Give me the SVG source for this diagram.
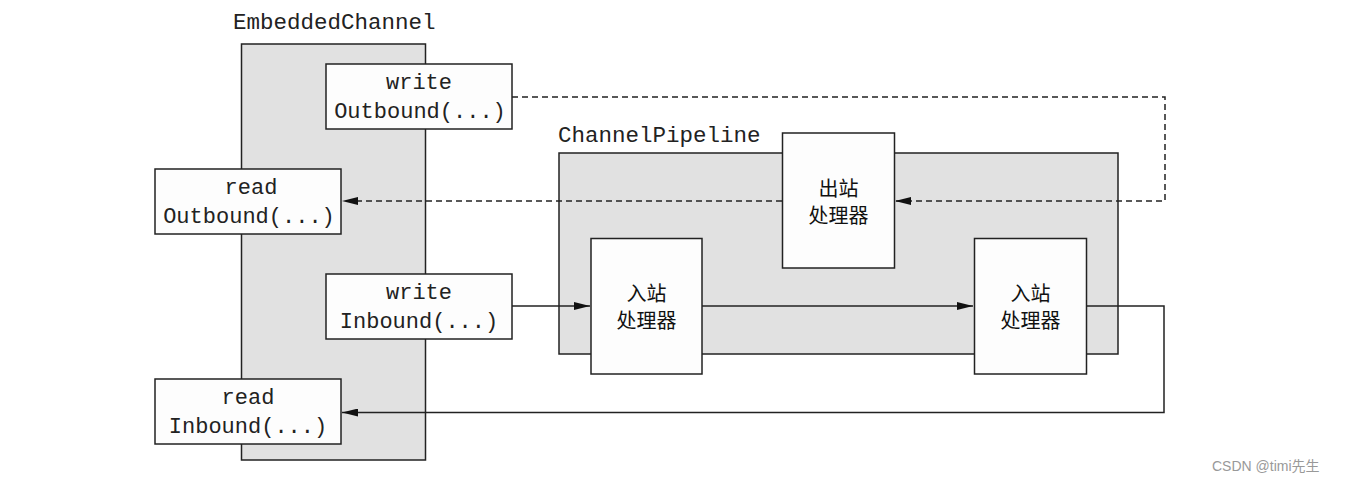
<svg xmlns="http://www.w3.org/2000/svg" width="1345" height="482" viewBox="0 0 1345 482">
<style>
.box{fill:#fdfdfd;stroke:#222;stroke-width:1.5}
.cont{fill:#e1e1e1;stroke:#222;stroke-width:1.5}
.mono{font-family:"Liberation Mono","DejaVu Sans Mono",monospace;font-size:22px;fill:#222;text-anchor:middle}
.lbl{font-family:"Liberation Mono","DejaVu Sans Mono",monospace;font-size:22.5px;fill:#222}
.cjk{font-family:"Noto Sans CJK SC",sans-serif;font-size:20px;fill:#111;text-anchor:middle}
.line{fill:none;stroke:#222;stroke-width:1.5}
.dash{stroke-dasharray:6,4}
</style>
<defs>
<marker id="arr" viewBox="0 0 16 8" refX="16" refY="4" markerWidth="16" markerHeight="8" markerUnits="userSpaceOnUse" orient="auto">
<path d="M0,0 L16,4 L0,8 Z" fill="#111"/>
</marker>
</defs>
<g id="embeddedChannel">
<rect class="cont" x="241.5" y="44" width="184" height="416"/>
<text class="lbl" x="233" y="29">EmbeddedChannel</text>
</g>
<g id="channelPipeline">
<rect class="cont" x="559" y="153" width="559" height="201"/>
<text class="lbl" x="558" y="142">ChannelPipeline</text>
</g>
<g id="connectors">
<path class="line dash" d="M512,97 H1165 V201 H895" marker-end="url(#arr)"/>
<path class="line dash" d="M782,201 H342" marker-end="url(#arr)"/>
<path class="line" d="M512,306 H590" marker-end="url(#arr)"/>
<path class="line" d="M702,306 H973" marker-end="url(#arr)"/>
<path class="line" d="M1086,306 H1164 V412.5 H342" marker-end="url(#arr)"/>
</g>
<g id="writeOutbound">
<rect class="box" x="326" y="64" width="186" height="65"/>
<text class="mono" x="419" y="89">write</text>
<text class="mono" x="420" y="118">Outbound(...)</text>
</g>
<g id="readOutbound">
<rect class="box" x="155" y="169" width="186" height="65"/>
<text class="mono" x="251" y="194">read</text>
<text class="mono" x="249" y="223">Outbound(...)</text>
</g>
<g id="writeInbound">
<rect class="box" x="326" y="274" width="186" height="65"/>
<text class="mono" x="419" y="299">write</text>
<text class="mono" x="419" y="328">Inbound(...)</text>
</g>
<g id="readInbound">
<rect class="box" x="155" y="379" width="186" height="65"/>
<text class="mono" x="248" y="404">read</text>
<text class="mono" x="248" y="433">Inbound(...)</text>
</g>
<g id="outboundHandler">
<rect class="box" x="782.5" y="133" width="112" height="135"/>
<text class="cjk" x="838.5" y="196">出站</text>
<text class="cjk" x="838.5" y="223">处理器</text>
</g>
<g id="inboundHandler1">
<rect class="box" x="591" y="238.5" width="111" height="135.5"/>
<text class="cjk" x="646.5" y="301">入站</text>
<text class="cjk" x="646.5" y="328">处理器</text>
</g>
<g id="inboundHandler2">
<rect class="box" x="974.5" y="238.5" width="112" height="135.5"/>
<text class="cjk" x="1030.5" y="301">入站</text>
<text class="cjk" x="1030.5" y="328">处理器</text>
</g>
<text x="1212" y="471" style="font-family:'Liberation Sans','Noto Sans CJK SC',sans-serif;font-size:14px;fill:#999">CSDN @timi先生</text>
</svg>
